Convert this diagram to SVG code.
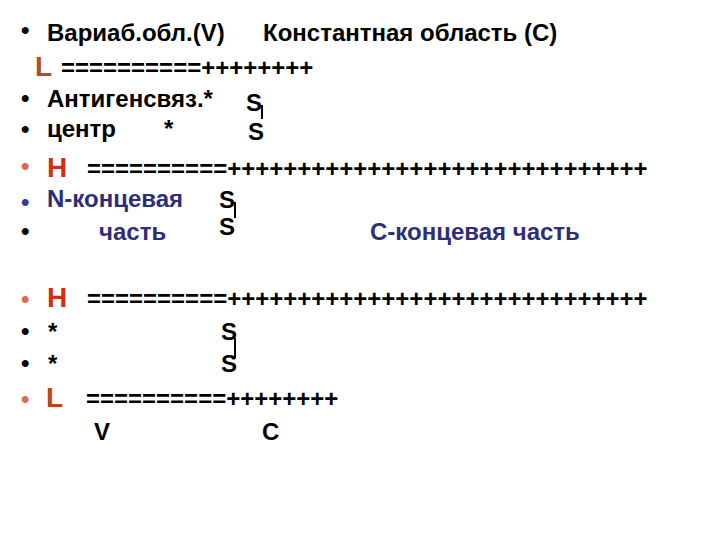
<svg xmlns="http://www.w3.org/2000/svg" width="720" height="540" viewBox="0 0 720 540">
<style>
text{font-family:"Liberation Sans",Arial,sans-serif;font-weight:bold;font-size:24px;fill:#000}
.bul{font-size:24px}
.rb{fill:#E06A4A}
.nb{fill:#3A3A9A}
.big{font-size:28px}
.h{fill:#CC3311}
.l1{fill:#B0501A}
.l2{fill:#C04418}
.navy{fill:#2E2E78}
.conn line{stroke:#000;stroke-width:2}
</style>
<rect width="720" height="540" fill="#fff"/>
<g id="bullets">
<text class="bul" x="21" y="38">•</text>
<text class="bul" x="21" y="106">•</text>
<text class="bul" x="21" y="137">•</text>
<text class="bul rb" x="21" y="174">•</text>
<text class="bul nb" x="21" y="210">•</text>
<text class="bul" x="21" y="239">•</text>
<text class="bul rb" x="21" y="307">•</text>
<text class="bul" x="21" y="339">•</text>
<text class="bul" x="21" y="371">•</text>
<text class="bul rb" x="21" y="407">•</text>
</g>
<g id="header">
<text x="47" y="41">Вариаб.обл.(V)</text>
<text x="263" y="41">Константная область (С)</text>
</g>
<g id="light-chain-top">
<text class="big l1" x="35" y="76">L</text>
<text x="61" y="76">==========++++++++</text>
</g>
<g id="antigen-site">
<text x="47" y="107">Антигенсвяз.*</text>
<text x="47" y="137">центр</text>
<text x="164" y="137">*</text>
</g>
<g id="s1a"><text x="246" y="111">S</text></g>
<g id="s1b"><text x="248" y="140">S</text></g>
<g id="heavy-chain-1">
<text class="big h" x="47" y="177">H</text>
<text x="87" y="177">==========++++++++++++++++++++++++++++++</text>
</g>
<g id="n-term">
<text class="navy" x="47" y="207">N-концевая</text>
<text class="navy" x="99" y="240">часть</text>
</g>
<g id="s2a"><text x="219" y="208">S</text></g>
<g id="s2b"><text x="219" y="235">S</text></g>
<g id="c-term"><text class="navy" x="370" y="240">С-концевая часть</text></g>
<g id="heavy-chain-2">
<text class="big h" x="47" y="307">H</text>
<text x="87" y="307">==========++++++++++++++++++++++++++++++</text>
</g>
<g id="stars">
<text x="48" y="340">*</text>
<text x="48" y="372">*</text>
</g>
<g id="s3a"><text x="221" y="340">S</text></g>
<g id="s3b"><text x="221" y="372">S</text></g>
<g id="light-chain-bottom">
<text class="big l2" x="46" y="407">L</text>
<text x="86" y="407">==========++++++++</text>
</g>
<g id="labels">
<text x="94" y="440">V</text>
<text x="262" y="440">C</text>
</g>
<g id="connectors" class="conn">
<line x1="262" y1="105" x2="262" y2="119"/>
<line x1="235" y1="202" x2="235" y2="218"/>
<line x1="235" y1="338" x2="235" y2="358"/>
</g>
</svg>
